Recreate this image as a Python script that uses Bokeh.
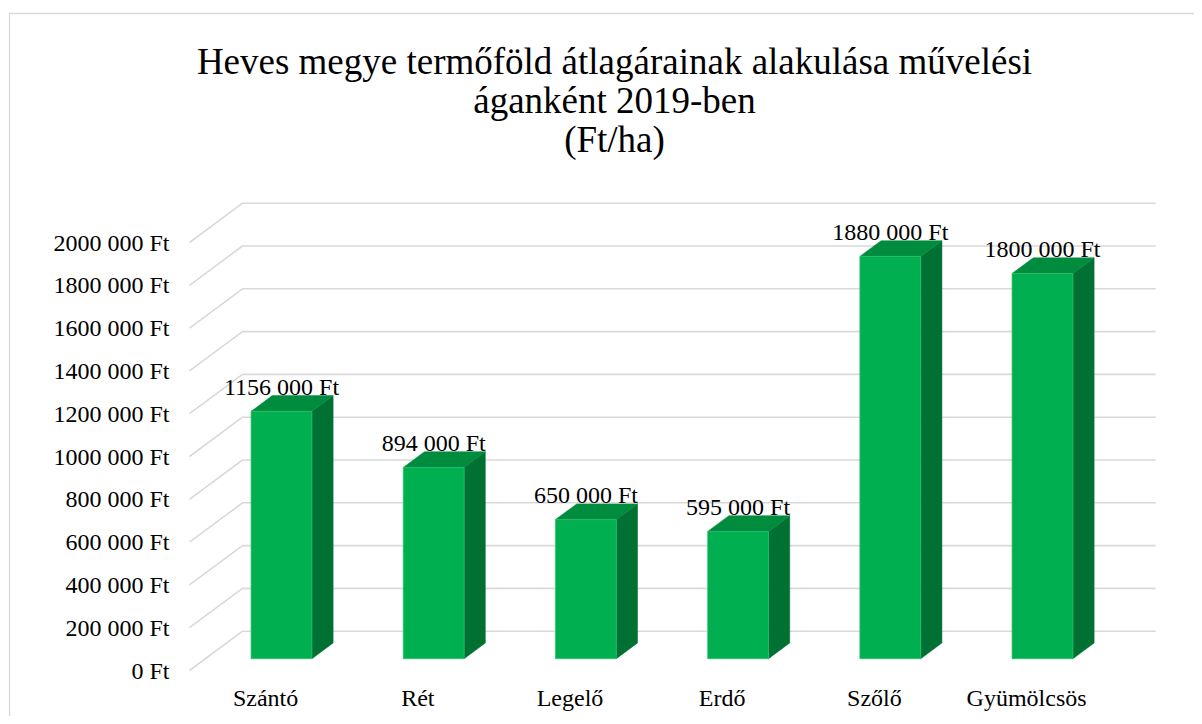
from bokeh.plotting import figure
from bokeh.models import Range1d
from bokeh.core.properties import value
from bokeh.embed import file_html
from bokeh.resources import INLINE

# ---- data ----
CATEGORIES = ["Szántó", "Rét", "Legelő", "Erdő", "Szőlő", "Gyümölcsös"]
VALUES = [1156000, 894000, 650000, 595000, 1880000, 1800000]
Y_TICKS = [0, 200000, 400000, 600000, 800000, 1000000,
           1200000, 1400000, 1600000, 1800000, 2000000]
Y_TICK_LABELS = ["0 Ft", "200 000 Ft", "400 000 Ft", "600 000 Ft", "800 000 Ft",
                 "1000 000 Ft", "1200 000 Ft", "1400 000 Ft", "1600 000 Ft",
                 "1800 000 Ft", "2000 000 Ft"]
TITLE_LINES = ["Heves megye termőföld átlagárainak alakulása művelési",
               "áganként 2019-ben",
               "(Ft/ha)"]


def ft(v):
    v = int(v)
    if v < 1000:
        return f"{v} Ft"
    return f"{v // 1000} {v % 1000:03d} Ft"


VALUE_LABELS = [ft(v) for v in VALUES]

# ---- layout (pixels) ----
W, H = 1194, 716
PX_CAT = 152.2            # pixels per category slot on the front plane
PX_FT = 428.0 / 2000000   # pixels per forint
ORIGIN_X, ORIGIN_Y = 189, 670   # canvas position of (0, 0) on the front plane


def dx_px(px):   # pixel offset -> category units
    return px / PX_CAT


def dy_px(px):   # pixel offset (upwards) -> value units
    return px / PX_FT


# ---- 3D geometry (data units) ----
N = len(CATEGORIES)
DEPTH_X = dx_px(53)     # full floor depth
DEPTH_Y = dy_px(39.3)
BAR_FRONT = 0.3         # bar front face position (fraction of depth)
BAR_DEPTH = 0.4         # bar depth (fraction of depth)
BAR_HALF = 0.2          # half bar width (category units)

FONT = "Liberation Serif"
GRID = "#d9d9d9"
FRONT_C = "#00b050"
TOP_C = "#008c3e"
SIDE_C = "#007033"

x0 = dx_px(-ORIGIN_X)
x1 = dx_px(W - ORIGIN_X)
y0r = dy_px(-(H - ORIGIN_Y))
y1r = dy_px(ORIGIN_Y)

p = figure(width=W, height=H, output_backend="svg", toolbar_location=None,
           title=None, x_range=Range1d(x0, x1), y_range=Range1d(y0r, y1r),
           min_border=0)
p.axis.visible = False
p.grid.visible = False
p.outline_line_color = None
p.background_fill_color = "white"
p.border_fill_color = "white"

# chart-area border (top and left, running off the page like the reference)
bx = dx_px(9 - ORIGIN_X)
by = dy_px(ORIGIN_Y - 13)
p.line([bx, bx, x1 + 1], [y0r - dy_px(10), by, by], line_color=GRID, line_width=1.3)

# title (three centred lines)
title_cx = dx_px(614 - ORIGIN_X)
title_y = [dy_px(ORIGIN_Y - py) for py in (61, 100, 139)]
p.text(x=[title_cx] * 3, y=title_y, text=TITLE_LINES, text_font=value(FONT),
       text_font_size="37px", text_align="center", text_baseline="middle",
       text_color="black")

# gridlines: front slant + back horizontal
gx = [[0, DEPTH_X, N + DEPTH_X] for _ in Y_TICKS]
gy = [[t, t + DEPTH_Y, t + DEPTH_Y] for t in Y_TICKS]
p.multi_line(gx, gy, line_color=GRID, line_width=1.6)

# y tick labels
p.text(x=[dx_px(-20)] * len(Y_TICKS), y=Y_TICKS, text=Y_TICK_LABELS,
       text_font=value(FONT), text_font_size="24px", text_align="right",
       text_baseline="middle", text_color="black")

# category labels
p.text(x=[i + 0.5 for i in range(N)], y=[dy_px(-27)] * N, text=CATEGORIES,
       text_font=value(FONT), text_font_size="24px", text_align="center",
       text_baseline="middle", text_color="black")

# bars
fx = BAR_FRONT * DEPTH_X
fy = BAR_FRONT * DEPTH_Y
ddx = BAR_DEPTH * DEPTH_X
ddy = BAR_DEPTH * DEPTH_Y
front_xs, front_ys, top_xs, top_ys, side_xs, side_ys = [], [], [], [], [], []
lab_x, lab_y = [], []
for i, v in enumerate(VALUES):
    c = i + 0.5
    xl, xr = c - BAR_HALF + fx, c + BAR_HALF + fx
    yb, yt = fy, v + fy
    front_xs.append([xl, xr, xr, xl]); front_ys.append([yb, yb, yt, yt])
    top_xs.append([xl, xl + ddx, xr + ddx, xr]); top_ys.append([yt, yt + ddy, yt + ddy, yt])
    side_xs.append([xr, xr + ddx, xr + ddx, xr]); side_ys.append([yb, yb + ddy, yt + ddy, yt])
    lab_x.append(c + fx)
    lab_y.append(yt + ddy)

p.patches(side_xs, side_ys, fill_color=SIDE_C, line_color=SIDE_C, line_width=0.5)
p.patches(top_xs, top_ys, fill_color=TOP_C, line_color=TOP_C, line_width=0.5)
p.patches(front_xs, front_ys, fill_color=FRONT_C, line_color="#2fbf6c", line_width=0.7)

p.text(x=lab_x, y=lab_y, text=VALUE_LABELS, text_font=value(FONT),
       text_font_size="24px", text_align="center", text_baseline="alphabetic",
       y_offset=-9, text_color="black")

open("out.html", "w").write(file_html(p, INLINE))
